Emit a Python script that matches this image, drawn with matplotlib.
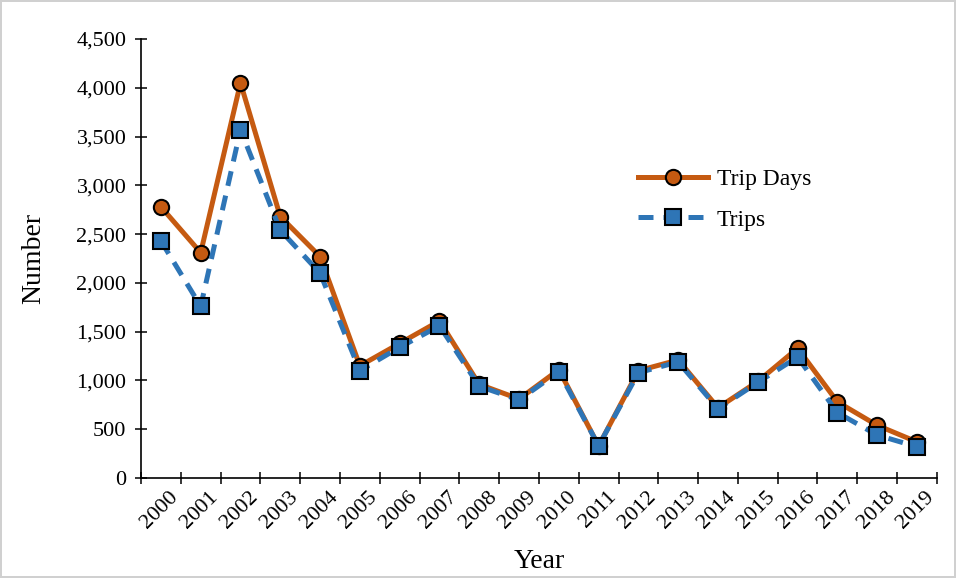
import matplotlib
matplotlib.use("Agg")
import matplotlib.pyplot as plt
from matplotlib.ticker import FuncFormatter, FixedLocator
import matplotlib.transforms as mtransforms

plt.rcParams['font.family'] = ['Liberation Serif', 'DejaVu Serif']

years = [str(y) for y in range(2000, 2020)]
trip_days = [2780, 2310, 4050, 2680, 2270, 1150, 1380, 1610, 960, 810,
             1110, 330, 1100, 1210, 720, 990, 1330, 780, 540, 370]
trips = [2430, 1760, 3570, 2540, 2100, 1100, 1340, 1560, 940, 800,
         1090, 330, 1080, 1190, 710, 980, 1240, 670, 440, 320]

fig = plt.figure(figsize=(9.56, 5.78), dpi=100)
fig.patch.set_edgecolor('#d0d0d0')
fig.patch.set_linewidth(1.5)
ax = fig.add_axes([0.1475, 0.173, 0.8325, 0.7595])

x = list(range(len(years)))
ax.plot(x, trip_days, color='#C55A11', lw=3.6, marker='o', markersize=11,
        markerfacecolor='#C55A11', markeredgecolor='black', markeredgewidth=1.5,
        label='Trip Days', zorder=3)
ax.plot(x, trips, color='#2E75B6', lw=3.6, ls=(0, (3, 2)), marker='s', markersize=11,
        markerfacecolor='#2E75B6', markeredgecolor='black', markeredgewidth=1.5,
        label='Trips', zorder=4)

ax.set_xlim(-0.5, len(years) - 0.5)
ax.set_ylim(0, 4500)
ax.set_yticks(range(0, 4501, 500))
ax.yaxis.set_major_formatter(FuncFormatter(lambda v, p: f"{int(v):,}"))

ax.set_xticks(x)
ax.set_xticklabels(years, rotation=45, ha='right', rotation_mode='anchor', fontsize=16)
ax.tick_params(axis='x', which='major', length=0, pad=7)
offset = mtransforms.ScaledTranslation(8 / 100, 0, fig.dpi_scale_trans)
for lbl in ax.get_xticklabels():
    lbl.set_transform(lbl.get_transform() + offset)
ax.xaxis.set_minor_locator(FixedLocator([i - 0.5 for i in range(len(years) + 1)]))
ax.tick_params(axis='x', which='minor', length=9, direction='inout', width=1.1)
ax.tick_params(axis='y', which='major', length=9, direction='inout', width=1.1, labelsize=16, pad=6)

for s in ['top', 'right']:
    ax.spines[s].set_visible(False)
for s in ['left', 'bottom']:
    ax.spines[s].set_linewidth(1.2)

ax.set_xlabel('Year', fontsize=20, labelpad=12)
ax.set_ylabel('Number', fontsize=20, labelpad=22)

leg = ax.legend(loc='center left', bbox_to_anchor=(0.624, 0.634), frameon=False,
                fontsize=17, handlelength=3.0, handletextpad=0.35, labelspacing=0.8,
                borderpad=0, borderaxespad=0)

fig.savefig('out.png', dpi=100)
